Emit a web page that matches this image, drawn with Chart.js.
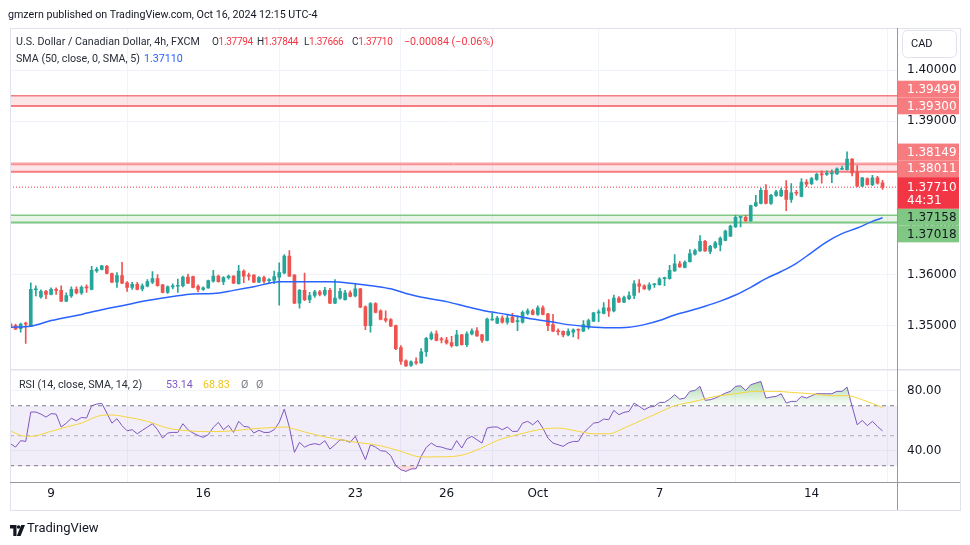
<!DOCTYPE html>
<html>
<head>
<meta charset="utf-8">
<title>USDCAD 4h</title>
<script src="https://cdn.jsdelivr.net/npm/chart.js@4.4.1/dist/chart.umd.min.js"></script>
<style>
  html, body { margin: 0; padding: 0; background: #ffffff; }
  body { width: 970px; height: 545px; position: relative; overflow: hidden; font-family: Roboto, sans-serif; }
  #chart { position: absolute; left: 0; top: 0; }
  .lbl { position: absolute; white-space: nowrap; font-size: 10.7px; line-height: 14px; color: #2a2e39; }
  .num { font-size: 10px; letter-spacing: -0.3px; }
  .red { color: #f23645; }
  .blue { color: #2962ff; }
  .purple { color: #7e57c2; }
  .yellow { color: #f0c419; }
  .gray { color: #787b86; }
</style>
</head>
<body>
<canvas id="chart" width="970" height="545"></canvas>

<div class="lbl" style="left:8px;top:8px;color:#131722;">gmzern published on TradingView.com, Oct 16, 2024 12:15 UTC-4</div>

<div class="lbl" style="left:16px;top:35px;">U.S. Dollar / Canadian Dollar, 4h, FXCM</div>
<div class="lbl num" style="left:212px;top:35px;">O<span class="red">1.37794</span></div>
<div class="lbl num" style="left:257px;top:35px;">H<span class="red">1.37844</span></div>
<div class="lbl num" style="left:304px;top:35px;">L<span class="red">1.37666</span></div>
<div class="lbl num" style="left:352px;top:35px;">C<span class="red">1.37710</span></div>
<div class="lbl red" style="left:404px;top:35px;">−0.00084 (−0.06%)</div>
<div class="lbl" style="left:16px;top:52px;">SMA (50, close, 0, SMA, 5)</div>
<div class="lbl blue" style="left:144px;top:52px;">1.37110</div>

<div class="lbl" style="left:19px;top:378px;">RSI (14, close, SMA, 14, 2)</div>
<div class="lbl purple" style="left:166px;top:378px;">53.14</div>
<div class="lbl yellow" style="left:203px;top:378px;">68.83</div>
<div class="lbl gray" style="left:241px;top:378px;">Ø</div>
<div class="lbl gray" style="left:256px;top:378px;">Ø</div>

<div class="lbl" style="left:911px;top:37px;font-size:11px;color:#131722;">CAD</div>

<div style="position:absolute;left:10px;top:521px;">
  <svg width="15" height="11" viewBox="0 0 15 11">
    <path d="M0 0h6.5v11h-3.2v-7.6h-3.3z" fill="#131722"/>
    <circle cx="8.6" cy="2" r="1.8" fill="#131722"/>
    <path d="M11.2 0h3.8l-4.4 11h-3.8z" fill="#131722"/>
  </svg>
</div>
<div class="lbl" style="left:27px;top:520px;font-size:13px;line-height:15px;color:#131722;">TradingView</div>

<script>
// x axis: candle index, labels at the first bar of each marked day
const tickIdx = [8, 38, 68, 86, 104, 128, 158];
const tickText = ['9', '16', '23', '26', 'Oct', '7', '14'];
const priceTicks = [1.35, 1.36, 1.37, 1.38, 1.39, 1.40];
const rsiTicks = [40, 80];

const opens = [
  1.3503, 1.3500, 1.3494, 1.3505, 1.3499, 1.3570, 1.3556, 1.3567, 1.3561, 1.3571,
  1.3569, 1.3548, 1.3558, 1.3571, 1.3564, 1.3576, 1.3571, 1.3607, 1.3610, 1.3616,
  1.3602, 1.3585, 1.3598, 1.3584, 1.3575, 1.3581, 1.3572, 1.3577, 1.3585, 1.3592,
  1.3580, 1.3565, 1.3576, 1.3577, 1.3578, 1.3595, 1.3596, 1.3577, 1.3571, 1.3574,
  1.3587, 1.3597, 1.3586, 1.3594, 1.3597, 1.3582, 1.3607, 1.3599, 1.3599, 1.3585,
  1.3594, 1.3588, 1.3589, 1.3595, 1.3603, 1.3636, 1.3599, 1.3544, 1.3569, 1.3551,
  1.3559, 1.3566, 1.3561, 1.3569, 1.3544, 1.3554, 1.3551, 1.3564, 1.3558, 1.3572,
  1.3537, 1.3500, 1.3543, 1.3529, 1.3514, 1.3512, 1.3500, 1.3457, 1.3431, 1.3422,
  1.3429, 1.3427, 1.3449, 1.3474, 1.3484, 1.3474, 1.3472, 1.3467, 1.3461, 1.3482,
  1.3463, 1.3484, 1.3490, 1.3482, 1.3471, 1.3511, 1.3505, 1.3515, 1.3507, 1.3517,
  1.3508, 1.3507, 1.3524, 1.3529, 1.3522, 1.3535, 1.3523, 1.3502, 1.3490, 1.3489,
  1.3482, 1.3487, 1.3493, 1.3489, 1.3497, 1.3509, 1.3525, 1.3524, 1.3535, 1.3529,
  1.3554, 1.3546, 1.3553, 1.3559, 1.3582, 1.3578, 1.3572, 1.3580, 1.3580, 1.3592,
  1.3592, 1.3607, 1.3621, 1.3614, 1.3625, 1.3640, 1.3646, 1.3665, 1.3645, 1.3653,
  1.3658, 1.3667, 1.3675, 1.3693, 1.3712, 1.3712, 1.3705, 1.3735, 1.3739, 1.3765,
  1.3739, 1.3755, 1.3754, 1.3765, 1.3747, 1.3761, 1.3753, 1.3781, 1.3778, 1.3786,
  1.3797, 1.3796, 1.3797, 1.3797, 1.3806, 1.3805, 1.3826, 1.3801, 1.3773, 1.3788,
  1.3776, 1.3789, 1.37794
];
const highs = [
  1.3506, 1.3503, 1.3505, 1.3507, 1.3584, 1.3578, 1.3570, 1.3569, 1.3574, 1.3574,
  1.3578, 1.3564, 1.3576, 1.3576, 1.3578, 1.3580, 1.3616, 1.3614, 1.3618, 1.3618,
  1.3603, 1.3604, 1.3624, 1.3586, 1.3585, 1.3585, 1.3582, 1.3590, 1.3606, 1.3600,
  1.3581, 1.3578, 1.3582, 1.3591, 1.3597, 1.3601, 1.3597, 1.3580, 1.3576, 1.3589,
  1.3608, 1.3599, 1.3596, 1.3599, 1.3598, 1.3618, 1.3609, 1.3603, 1.3600, 1.3596,
  1.3597, 1.3592, 1.3607, 1.3623, 1.3639, 1.3647, 1.3600, 1.3571, 1.3603, 1.3565,
  1.3569, 1.3569, 1.3575, 1.3573, 1.3590, 1.3573, 1.3569, 1.3568, 1.3582, 1.3573,
  1.3539, 1.3545, 1.3545, 1.3531, 1.3529, 1.3514, 1.3501, 1.3461, 1.3433, 1.3431,
  1.3437, 1.3455, 1.3477, 1.3488, 1.3490, 1.3477, 1.3477, 1.3479, 1.3491, 1.3483,
  1.3488, 1.3494, 1.3496, 1.3483, 1.3515, 1.3524, 1.3518, 1.3519, 1.3521, 1.3524,
  1.3519, 1.3529, 1.3533, 1.3532, 1.3539, 1.3539, 1.3524, 1.3522, 1.3494, 1.3490,
  1.3494, 1.3494, 1.3494, 1.3510, 1.3513, 1.3526, 1.3531, 1.3545, 1.3551, 1.3560,
  1.3557, 1.3558, 1.3566, 1.3588, 1.3590, 1.3580, 1.3584, 1.3583, 1.3594, 1.3595,
  1.3618, 1.3639, 1.3626, 1.3627, 1.3649, 1.3650, 1.3676, 1.3667, 1.3657, 1.3665,
  1.3674, 1.3687, 1.3697, 1.3716, 1.3714, 1.3716, 1.3736, 1.3755, 1.3769, 1.3776,
  1.3757, 1.3765, 1.3769, 1.3784, 1.3778, 1.3765, 1.3788, 1.3786, 1.3790, 1.3798,
  1.3803, 1.3803, 1.3805, 1.3809, 1.3812, 1.3840, 1.3827, 1.3813, 1.3790, 1.3789,
  1.3794, 1.3792, 1.37844
];
const lows = [
  1.3497, 1.3492, 1.3487, 1.3465, 1.3498, 1.3558, 1.3554, 1.3553, 1.3560, 1.3561,
  1.3547, 1.3547, 1.3555, 1.3562, 1.3561, 1.3565, 1.3570, 1.3604, 1.3609, 1.3601,
  1.3584, 1.3575, 1.3582, 1.3567, 1.3571, 1.3570, 1.3568, 1.3576, 1.3582, 1.3577,
  1.3564, 1.3563, 1.3572, 1.3565, 1.3576, 1.3582, 1.3574, 1.3566, 1.3569, 1.3573,
  1.3585, 1.3585, 1.3580, 1.3591, 1.3582, 1.3581, 1.3584, 1.3589, 1.3584, 1.3584,
  1.3583, 1.3583, 1.3582, 1.3540, 1.3601, 1.3596, 1.3543, 1.3534, 1.3549, 1.3545,
  1.3555, 1.3558, 1.3558, 1.3543, 1.3543, 1.3552, 1.3550, 1.3556, 1.3556, 1.3535,
  1.3492, 1.3487, 1.3525, 1.3511, 1.3507, 1.3498, 1.3453, 1.3424, 1.3420, 1.3420,
  1.3424, 1.3426, 1.3440, 1.3472, 1.3470, 1.3466, 1.3464, 1.3458, 1.3460, 1.3462,
  1.3459, 1.3482, 1.3479, 1.3467, 1.3470, 1.3510, 1.3504, 1.3505, 1.3503, 1.3506,
  1.3490, 1.3505, 1.3521, 1.3521, 1.3520, 1.3521, 1.3490, 1.3488, 1.3482, 1.3478,
  1.3480, 1.3478, 1.3474, 1.3488, 1.3493, 1.3508, 1.3508, 1.3523, 1.3518, 1.3527,
  1.3545, 1.3545, 1.3551, 1.3553, 1.3565, 1.3571, 1.3569, 1.3575, 1.3579, 1.3578,
  1.3591, 1.3606, 1.3614, 1.3613, 1.3624, 1.3638, 1.3645, 1.3645, 1.3641, 1.3651,
  1.3646, 1.3666, 1.3674, 1.3692, 1.3693, 1.3704, 1.3704, 1.3733, 1.3738, 1.3738,
  1.3737, 1.3753, 1.3753, 1.3725, 1.3741, 1.3755, 1.3752, 1.3772, 1.3776, 1.3784,
  1.3779, 1.3794, 1.3780, 1.3796, 1.3805, 1.3804, 1.3793, 1.3772, 1.3772, 1.3775,
  1.3774, 1.3777, 1.37666
];
const closes = [
  1.3499, 1.3493, 1.3503, 1.3503, 1.3571, 1.3572, 1.3567, 1.3561, 1.3571, 1.3569,
  1.3548, 1.3559, 1.3571, 1.3564, 1.3575, 1.3574, 1.3608, 1.3610, 1.3617, 1.3602,
  1.3585, 1.3598, 1.3583, 1.3575, 1.3581, 1.3571, 1.3578, 1.3586, 1.3592, 1.3578,
  1.3565, 1.3576, 1.3577, 1.3579, 1.3595, 1.3583, 1.3575, 1.3571, 1.3574, 1.3588,
  1.3597, 1.3586, 1.3594, 1.3597, 1.3583, 1.3607, 1.3597, 1.3597, 1.3585, 1.3594,
  1.3587, 1.3589, 1.3596, 1.3604, 1.3636, 1.3597, 1.3544, 1.3569, 1.3551, 1.3559,
  1.3566, 1.3561, 1.3569, 1.3544, 1.3554, 1.3567, 1.3564, 1.3557, 1.3572, 1.3536,
  1.3500, 1.3543, 1.3526, 1.3512, 1.3510, 1.3499, 1.3455, 1.3430, 1.3421, 1.3429,
  1.3427, 1.3449, 1.3475, 1.3484, 1.3471, 1.3472, 1.3466, 1.3461, 1.3482, 1.3463,
  1.3484, 1.3490, 1.3480, 1.3471, 1.3513, 1.3512, 1.3515, 1.3507, 1.3515, 1.3507,
  1.3509, 1.3526, 1.3529, 1.3522, 1.3535, 1.3522, 1.3500, 1.3489, 1.3488, 1.3482,
  1.3489, 1.3492, 1.3491, 1.3502, 1.3510, 1.3525, 1.3527, 1.3535, 1.3529, 1.3554,
  1.3546, 1.3555, 1.3559, 1.3582, 1.3577, 1.3572, 1.3580, 1.3581, 1.3591, 1.3593,
  1.3608, 1.3621, 1.3615, 1.3624, 1.3641, 1.3647, 1.3665, 1.3646, 1.3655, 1.3662,
  1.3671, 1.3685, 1.3695, 1.3712, 1.3713, 1.3705, 1.3735, 1.3741, 1.3765, 1.3739,
  1.3755, 1.3762, 1.3765, 1.3747, 1.3760, 1.3759, 1.3781, 1.3777, 1.3788, 1.3796,
  1.3795, 1.3798, 1.3799, 1.3807, 1.3808, 1.3826, 1.3799, 1.3773, 1.3789, 1.3776,
  1.3789, 1.3779, 1.37710
];

// SMA(50) at these bars
const smaIdx = [0, 4, 8, 14, 18, 22, 27, 32, 36, 40, 44, 48, 53, 57, 63, 68, 72, 75, 78, 82,
  86, 90, 94, 98, 103, 107, 110, 114, 118, 122, 125, 128, 131, 134, 137, 140, 143, 146, 149, 152,
  155, 158, 161, 164, 167, 170, 172];
const smaVals = [1.3497, 1.3499, 1.3510, 1.3522, 1.3531, 1.3539, 1.3549, 1.3557, 1.3562, 1.3563,
  1.3569, 1.3576, 1.3586, 1.3586, 1.3586, 1.3582, 1.3577, 1.3572, 1.3563, 1.3554,
  1.3547, 1.3537, 1.3528, 1.3522, 1.3513, 1.3507, 1.3502, 1.3498, 1.3496, 1.3497,
  1.3502, 1.3510, 1.3521, 1.3529, 1.3538, 1.3548, 1.3560, 1.3575, 1.3592, 1.3606,
  1.3622, 1.3643, 1.3664, 1.3680, 1.3691, 1.3704, 1.3711];

const rsiVals = [
  44.7, 42.4, 46.7, 46.2, 65.8, 65.8, 64.4, 62.4, 64.7, 64.4,
  55.8, 58.4, 61.6, 60.0, 62.2, 61.8, 70.0, 71.1, 71.6, 65.1,
  58.4, 61.3, 56.7, 53.3, 54.0, 51.3, 53.6, 55.8, 58.0, 54.0,
  48.4, 51.8, 52.2, 52.2, 58.0, 54.0, 51.8, 50.2, 48.9, 50.7,
  55.6, 58.9, 54.0, 56.9, 52.2, 59.6, 56.2, 55.8, 51.8, 53.6,
  52.2, 52.2, 54.0, 58.9, 67.8, 55.8, 38.9, 45.6, 42.4, 44.0,
  44.7, 44.0, 46.7, 41.1, 44.0, 47.3, 46.9, 45.6, 49.6, 41.8,
  34.0, 44.0, 42.4, 40.0, 39.6, 36.7, 30.0, 27.3, 26.2, 27.8,
  28.0, 36.2, 42.2, 45.1, 42.9, 42.4, 41.3, 40.7, 46.7, 41.8,
  47.8, 49.6, 47.3, 45.1, 55.1, 55.8, 55.8, 54.0, 55.8, 52.9,
  52.9, 58.4, 59.6, 57.3, 60.2, 55.1, 48.4, 45.1, 44.0, 42.9,
  45.1, 46.2, 46.2, 51.8, 55.1, 58.4, 58.9, 61.1, 60.7, 66.9,
  64.0, 65.6, 66.2, 71.8, 69.6, 67.3, 69.1, 69.6, 72.2, 72.2,
  74.4, 77.3, 74.4, 75.1, 79.6, 80.2, 82.9, 73.6, 74.0, 75.1,
  76.7, 78.4, 79.6, 82.9, 83.3, 80.2, 84.0, 85.1, 86.2, 75.1,
  75.8, 76.2, 78.0, 71.8, 72.9, 72.9, 76.2, 75.1, 76.7, 78.0,
  78.0, 78.0, 78.0, 79.6, 79.6, 82.4, 69.6, 57.3, 60.2, 56.7,
  59.6, 56.2, 53.14
];

// RSI-based MA (yellow) read at these bars
const rsiMaIdx = [0, 2, 4, 8, 11, 14, 18, 20, 23, 27, 31, 35, 39, 44, 47, 52, 54, 56, 60, 67,
  73, 77, 81, 85, 89, 93, 96, 100, 105, 108, 112, 115, 118, 121, 125, 128, 131, 135, 139, 143,
  147, 151, 154, 158, 162, 165, 168, 172];
const rsiMaVals = [53.3, 50.2, 49.6, 52.9, 55.8, 58.4, 63.6, 63.8, 62.4, 59.6, 55.1, 53.3, 52.7, 53.3, 54.4, 55.5, 55.8, 54.4, 50.7, 46.2,
  43.3, 39.6, 35.8, 35.9, 37.0, 42.0, 46.8, 50.7, 54.4, 55.1, 52.9, 51.3, 51.3, 55.1, 61.1, 65.6, 70.0, 72.9, 76.2, 78.0,
  79.6, 79.6, 78.9, 78.0, 76.7, 76.7, 74.0, 68.83];

const redZones = [[1.39499, 1.39300], [1.38149, 1.38011]];
const redZoneTopLine = 1.3818;
const greenZone = [1.37158, 1.37018];
const lastClose = 1.37710;
const countdown = '44:31';

const xMin = -0.1, xMax = 174.85;
const upColor = '#26a69a', downColor = '#ef5350';
const candleColors = opens.map((o, i) => closes[i] >= o ? upColor : downColor);
const axisFont = { family: 'DejaVu Sans', size: 12 };

function levelLine(v) {
  return [{ x: xMin, y: v }, { x: xMax, y: v }];
}

const decor = {
  id: 'decor',
  beforeDatasetsDraw(chart) {
    const { ctx, chartArea: a, scales: { y } } = chart;
    ctx.save();
    ctx.beginPath();
    ctx.rect(a.left, y.top, a.right - a.left, y.bottom - y.top);
    ctx.clip();
    const hline = (v, color, w) => {
      const p = y.getPixelForValue(v);
      ctx.strokeStyle = color; ctx.lineWidth = w;
      ctx.beginPath(); ctx.moveTo(a.left, p); ctx.lineTo(a.right, p); ctx.stroke();
    };
    const band = (v1, v2, color) => {
      const p1 = y.getPixelForValue(v1), p2 = y.getPixelForValue(v2);
      ctx.fillStyle = color;
      ctx.fillRect(a.left, Math.min(p1, p2), a.right - a.left, Math.abs(p2 - p1));
    };
    band(redZones[0][0], redZones[0][1], 'rgba(242,54,69,0.13)');
    hline(redZones[0][0], '#f77c80', 1.5);
    hline(redZones[0][1], '#f77c80', 2);
    band(redZoneTopLine, redZones[1][1], 'rgba(242,54,69,0.13)');
    hline(redZoneTopLine, '#f77c80', 1);
    hline(redZones[1][0], '#f77c80', 1);
    hline(redZones[1][1], '#f77c80', 2);
    band(greenZone[0], greenZone[1], 'rgba(76,175,80,0.13)');
    hline(greenZone[0], '#81c784', 1.5);
    hline(greenZone[1], '#81c784', 2);
    // last price dotted line
    ctx.setLineDash([1, 2]);
    hline(lastClose, '#f23645', 1);
    ctx.restore();
  },
  afterDraw(chart) {
    const { ctx, chartArea: a, scales: { y } } = chart;
    ctx.save();
    // pane separator, axis lines, frame
    ctx.strokeStyle = '#e0e3eb'; ctx.lineWidth = 1.5;
    ctx.beginPath(); ctx.moveTo(10, y.bottom); ctx.lineTo(960, y.bottom); ctx.stroke();
    ctx.lineWidth = 1;
    ctx.strokeRect(10.5, 28.5, 950, 482);
    ctx.strokeStyle = '#9598a1';
    ctx.beginPath();
    ctx.moveTo(a.right + 0.5, a.top); ctx.lineTo(a.right + 0.5, 510);
    ctx.moveTo(10, a.bottom + 0.5); ctx.lineTo(960, a.bottom + 0.5);
    ctx.stroke();

    // CAD button
    ctx.strokeStyle = '#e0e3eb';
    ctx.beginPath();
    ctx.roundRect(902.5, 30.5, 54, 27, 5);
    ctx.stroke();

    // price labels on the right axis
    const lh = 16.8, bx = a.right + 1, bw = 61;
    const pp = y.getPixelForValue(lastClose);
    const anchorTop = pp - 10, anchorBot = pp + 21.6;
    const lbls = [
      { v: redZones[0][0], bg: '#f77c80', fg: '#ffffff' },
      { v: redZones[0][1], bg: '#f77c80', fg: '#ffffff' },
      { v: redZones[1][0], bg: '#f77c80', fg: '#ffffff' },
      { v: redZones[1][1], bg: '#f77c80', fg: '#ffffff' },
      { v: greenZone[0], bg: '#81c784', fg: '#131722' },
      { v: greenZone[1], bg: '#81c784', fg: '#131722' }
    ].map(l => ({ ...l, c: y.getPixelForValue(l.v) }));
    const above = lbls.filter(l => l.c < pp).sort((p, q) => q.c - p.c);
    const below = lbls.filter(l => l.c >= pp).sort((p, q) => p.c - q.c);
    let lim = anchorTop;
    above.forEach(l => { l.c = Math.min(l.c, lim - lh / 2); lim = l.c - lh / 2; });
    lim = anchorBot;
    below.forEach(l => { l.c = Math.max(l.c, lim + lh / 2); lim = l.c + lh / 2; });
    ctx.font = '12px "DejaVu Sans"';
    ctx.textBaseline = 'middle';
    ctx.textAlign = 'left';
    lbls.forEach(l => {
      ctx.fillStyle = l.bg;
      ctx.fillRect(bx, l.c - lh / 2, bw, lh);
      ctx.fillStyle = l.fg;
      ctx.fillText(l.v.toFixed(5), bx + 9, l.c + 0.5);
    });
    ctx.fillStyle = '#f23645';
    ctx.fillRect(bx, anchorTop, bw, anchorBot - anchorTop);
    ctx.fillStyle = '#ffffff';
    ctx.fillText(lastClose.toFixed(5), bx + 9, pp + 0.5);
    ctx.fillText(countdown, bx + 9, pp + 13.5);
    ctx.restore();
  }
};

new Chart(document.getElementById('chart'), {
  type: 'bar',
  data: {
    datasets: [
      {
        type: 'line', label: 'SMA 50', yAxisID: 'y', order: 0,
        data: smaIdx.map((x, k) => ({ x: x, y: smaVals[k] })),
        borderColor: '#2962ff', borderWidth: 1.5, pointRadius: 0,
        cubicInterpolationMode: 'monotone', fill: false
      },
      {
        label: 'body', yAxisID: 'y', order: 1,
        data: opens.map((o, i) => ({ x: i, y: [o, closes[i]] })),
        backgroundColor: candleColors, barThickness: 3, minBarLength: 1, grouped: false
      },
      {
        label: 'wick', yAxisID: 'y', order: 2,
        data: highs.map((h, i) => ({ x: i, y: [lows[i], h] })),
        backgroundColor: candleColors, barThickness: 1, grouped: false
      },
      {
        type: 'line', label: 'RSI', yAxisID: 'yr', order: 3,
        data: rsiVals.map((v, i) => ({ x: i, y: v })),
        borderColor: '#7e57c2', borderWidth: 1, pointRadius: 0,
        fill: { target: { value: 70 }, below: 'rgba(0,0,0,0)' },
        backgroundColor: (c) => {
          const ch = c.chart, s = ch.scales.yr;
          if (!ch.chartArea || !s) return 'rgba(76,175,80,0.25)';
          const t = s.getPixelForValue(86), b = s.getPixelForValue(70);
          if (!isFinite(t) || !isFinite(b)) return 'rgba(76,175,80,0.25)';
          const g = ch.ctx.createLinearGradient(0, t, 0, b);
          g.addColorStop(0, 'rgba(76,175,80,0.45)');
          g.addColorStop(1, 'rgba(76,175,80,0.03)');
          return g;
        }
      },
      {
        type: 'line', label: 'RSI oversold', yAxisID: 'yr', order: 4,
        data: rsiVals.map((v, i) => ({ x: i, y: v })),
        borderColor: 'rgba(0,0,0,0)', borderWidth: 0, pointRadius: 0,
        fill: { target: { value: 30 }, above: 'rgba(0,0,0,0)', below: 'rgba(242,54,69,0.18)' }
      },
      {
        type: 'line', label: 'RSI MA', yAxisID: 'yr', order: 2,
        data: rsiMaIdx.map((x, k) => ({ x: x, y: rsiMaVals[k] })),
        borderColor: '#f5d63d', borderWidth: 1, pointRadius: 0,
        cubicInterpolationMode: 'monotone', fill: false
      },
      {
        type: 'line', label: 'upper band', yAxisID: 'yr', order: 6,
        data: levelLine(70), borderColor: '#787b86', borderWidth: 1, borderDash: [4, 4],
        pointRadius: 0, fill: { target: { value: 30 } }, backgroundColor: 'rgba(126,87,194,0.1)'
      },
      {
        type: 'line', label: 'middle band', yAxisID: 'yr', order: 6,
        data: levelLine(50), borderColor: '#b2b5be', borderWidth: 1, borderDash: [4, 4],
        pointRadius: 0, fill: false
      },
      {
        type: 'line', label: 'lower band', yAxisID: 'yr', order: 6,
        data: levelLine(30), borderColor: '#787b86', borderWidth: 1, borderDash: [4, 4],
        pointRadius: 0, fill: false
      }
    ]
  },
  options: {
    responsive: false,
    animation: false,
    devicePixelRatio: 1,
    events: [],
    layout: { padding: { left: 10, top: 28, right: 10, bottom: 35 } },
    plugins: { legend: { display: false }, tooltip: { enabled: false } },
    scales: {
      x: {
        type: 'linear', min: xMin, max: xMax, offset: false,
        afterBuildTicks: s => { s.ticks = tickIdx.map(v => ({ value: v })); },
        afterFit: s => { s.height = 28; },
        ticks: {
          autoSkip: false, maxRotation: 0, padding: 5, color: '#131722', font: axisFont,
          callback: v => tickText[tickIdx.indexOf(v)]
        },
        grid: { color: '#f0f3fa', drawTicks: false },
        border: { display: false }
      },
      y: {
        type: 'linear', position: 'right', stack: 'panes', stackWeight: 341,
        min: 1.34137, max: 1.40824,
        afterBuildTicks: s => { s.ticks = priceTicks.map(v => ({ value: v })); },
        afterFit: s => { s.width = 63; },
        ticks: { padding: 10, color: '#131722', font: axisFont, callback: v => v.toFixed(5) },
        grid: { color: '#f0f3fa', drawTicks: false },
        border: { display: false }
      },
      yr: {
        type: 'linear', position: 'right', stack: 'panes', stackWeight: 112,
        min: 19.13, max: 94,
        afterBuildTicks: s => { s.ticks = rsiTicks.map(v => ({ value: v })); },
        afterFit: s => { s.width = 63; },
        ticks: { padding: 10, color: '#131722', font: axisFont, callback: v => v.toFixed(2) },
        grid: { color: '#f0f3fa', drawTicks: false },
        border: { display: false }
      }
    }
  },
  plugins: [decor]
});
</script>
</body>
</html>
